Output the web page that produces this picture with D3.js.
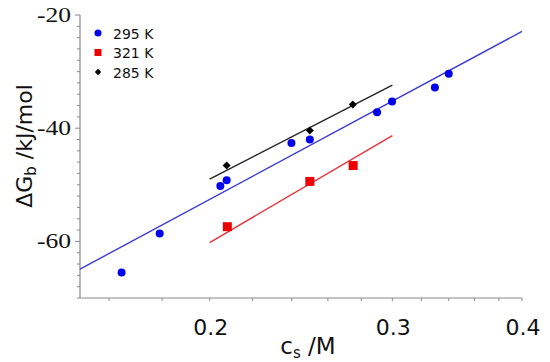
<!doctype html>
<html>
  <head>
    <meta charset="utf-8">
    <title>Binding free energy vs salt concentration</title>
    <style>
      body { margin: 0; background: #fff; }
      svg { display: block; }
    </style>
    <script src="https://cdnjs.cloudflare.com/ajax/libs/d3/7.8.5/d3.min.js"></script>
  </head>
  <body>
    <div id="chart"></div>
    <script>
      // data
      const cs295 = [0.1645, 0.179, 0.2048, 0.2077, 0.2398, 0.2498, 0.290, 0.2998, 0.3297, 0.340];
      const dg295 = [-65.5, -58.6, -50.2, -49.2, -42.6, -42.0, -37.2, -35.3, -32.8, -30.4];
      const cs321 = [0.208, 0.2498, 0.275];
      const dg321 = [-57.4, -49.4, -46.6];
      const cs285 = [0.2077, 0.2498, 0.2748];
      const dg285 = [-46.6, -40.4, -35.8];

      // fitted lines (end points)
      const fit295 = [[0.15, -64.9], [0.4, -22.9]];
      const fit321 = [[0.2, -60.2], [0.3, -41.3]];
      const fit285 = [[0.2, -49.0], [0.3, -32.4]];

      const xTicks = [0.16, 0.18, 0.2, 0.22, 0.24, 0.26, 0.28, 0.3, 0.32, 0.34, 0.36, 0.38, 0.4];
      const xLabels = [0.2, 0.3, 0.4];
      const yTicks = d3.range(-70, -19, 2);
      const yLabels = [-60, -40, -20];

      const legendNames = ["295 K", "321 K", "285 K"];
      const colors = ["#0000ee", "#ee0000", "#000000"];
      const lineColors = ["#3a3ad6", "#e8323a", "#222222"];

      const width = 550, height = 362;
      const svg = d3.select("#chart").append("svg")
        .attr("width", width)
        .attr("height", height);

      const x = d3.scaleLog().domain([0.15, 0.4]).range([80, 522]);
      const y = d3.scaleLinear().domain([-70, -20]).range([298, 15]);

      const axisColor = "#8a8a8a";

      // x axis
      const xAxis = svg.append("g").attr("transform", "translate(0,298)");
      xAxis.append("line")
        .attr("x1", 80).attr("x2", x(0.4))
        .attr("stroke", axisColor).attr("stroke-width", 1.2);
      xAxis.selectAll(".tick").data(xTicks).enter().append("line")
        .attr("x1", d => x(d)).attr("x2", d => x(d))
        .attr("y1", 0).attr("y2", 3)
        .attr("stroke", axisColor);
      xAxis.selectAll(".lab").data(xLabels).enter().append("text")
        .attr("x", d => x(d) + 1).attr("y", 37)
        .attr("text-anchor", "middle")
        .style("font-family", "DejaVu Sans, sans-serif")
        .style("font-size", "22px")
        .attr("fill", "#111")
        .text(d => d.toFixed(1));

      // y axis
      const yAxis = svg.append("g").attr("transform", "translate(80,0)");
      yAxis.append("line")
        .attr("y1", y(-70)).attr("y2", y(-20))
        .attr("stroke", axisColor).attr("stroke-width", 1.2);
      yAxis.selectAll(".tick").data(yTicks).enter().append("line")
        .attr("y1", d => y(d)).attr("y2", d => y(d))
        .attr("x1", d => d % 20 === 0 ? -5 : -3).attr("x2", 0)
        .attr("stroke", axisColor);
      yAxis.selectAll(".lab").data(yLabels).enter().append("text")
        .attr("x", -43).attr("y", d => y(d) + 7)
        .attr("textLength", 34)
        .attr("lengthAdjust", "spacingAndGlyphs")
        .style("font-family", "Liberation Serif, serif")
        .style("font-size", "21px")
        .attr("fill", "#111")
        .text(d => d);

      // axis titles
      const xt = svg.append("text")
        .attr("x", 308).attr("y", 354)
        .attr("text-anchor", "middle")
        .style("font-family", "DejaVu Sans, sans-serif")
        .style("font-size", "23px")
        .attr("fill", "#111");
      xt.append("tspan").text("c");
      xt.append("tspan").attr("dy", 4).style("font-size", "15px").text("s");
      xt.append("tspan").attr("dy", -4).text(" /M");

      const yt = svg.append("text")
        .attr("transform", "translate(32,146) rotate(-90)")
        .attr("text-anchor", "middle")
        .style("font-family", "DejaVu Sans, sans-serif")
        .style("font-size", "22px")
        .attr("fill", "#111");
      yt.append("tspan").text("ΔG");
      yt.append("tspan").attr("dy", 4).style("font-size", "15px").text("b");
      yt.append("tspan").attr("dy", -4).text(" /kJ/mol");

      // fit lines
      const line = d3.line().x(d => x(d[0])).y(d => y(d[1]));
      [fit295, fit321, fit285].forEach((f, i) => {
        svg.append("path")
          .attr("d", line(f))
          .attr("fill", "none")
          .attr("stroke", lineColors[i])
          .attr("stroke-width", 1.4);
      });

      // markers
      const pts = (xs, ys) => xs.map((v, i) => [v, ys[i]]);
      svg.append("g").selectAll("circle").data(pts(cs295, dg295)).enter().append("circle")
        .attr("cx", d => x(d[0])).attr("cy", d => y(d[1]))
        .attr("r", 4).attr("fill", colors[0]);
      svg.append("g").selectAll("rect").data(pts(cs321, dg321)).enter().append("rect")
        .attr("x", d => x(d[0]) - 4.5).attr("y", d => y(d[1]) - 4.5)
        .attr("width", 9).attr("height", 9).attr("fill", colors[1]);
      const diamond = d3.symbol().type(d3.symbolDiamond2).size(40);
      svg.append("g").selectAll("path").data(pts(cs285, dg285)).enter().append("path")
        .attr("transform", d => `translate(${x(d[0])},${y(d[1])})`)
        .attr("d", diamond).attr("fill", colors[2]);

      // legend
      const legend = svg.append("g").attr("transform", "translate(98,33)");
      legendNames.forEach((name, i) => {
        const g = legend.append("g").attr("transform", `translate(0,${i * 19.5})`);
        if (i === 0) g.append("circle").attr("r", 3.5).attr("fill", colors[0]);
        if (i === 1) g.append("rect").attr("x", -3.5).attr("y", -3.5).attr("width", 7).attr("height", 7).attr("fill", colors[1]);
        if (i === 2) g.append("path").attr("d", d3.symbol().type(d3.symbolDiamond2).size(26)).attr("fill", colors[2]);
        g.append("text")
          .attr("x", 15).attr("y", 5.5)
          .style("font-family", "DejaVu Sans, sans-serif")
          .style("font-size", "14px")
          .attr("fill", "#111")
          .text(name);
      });
    </script>
  </body>
</html>
